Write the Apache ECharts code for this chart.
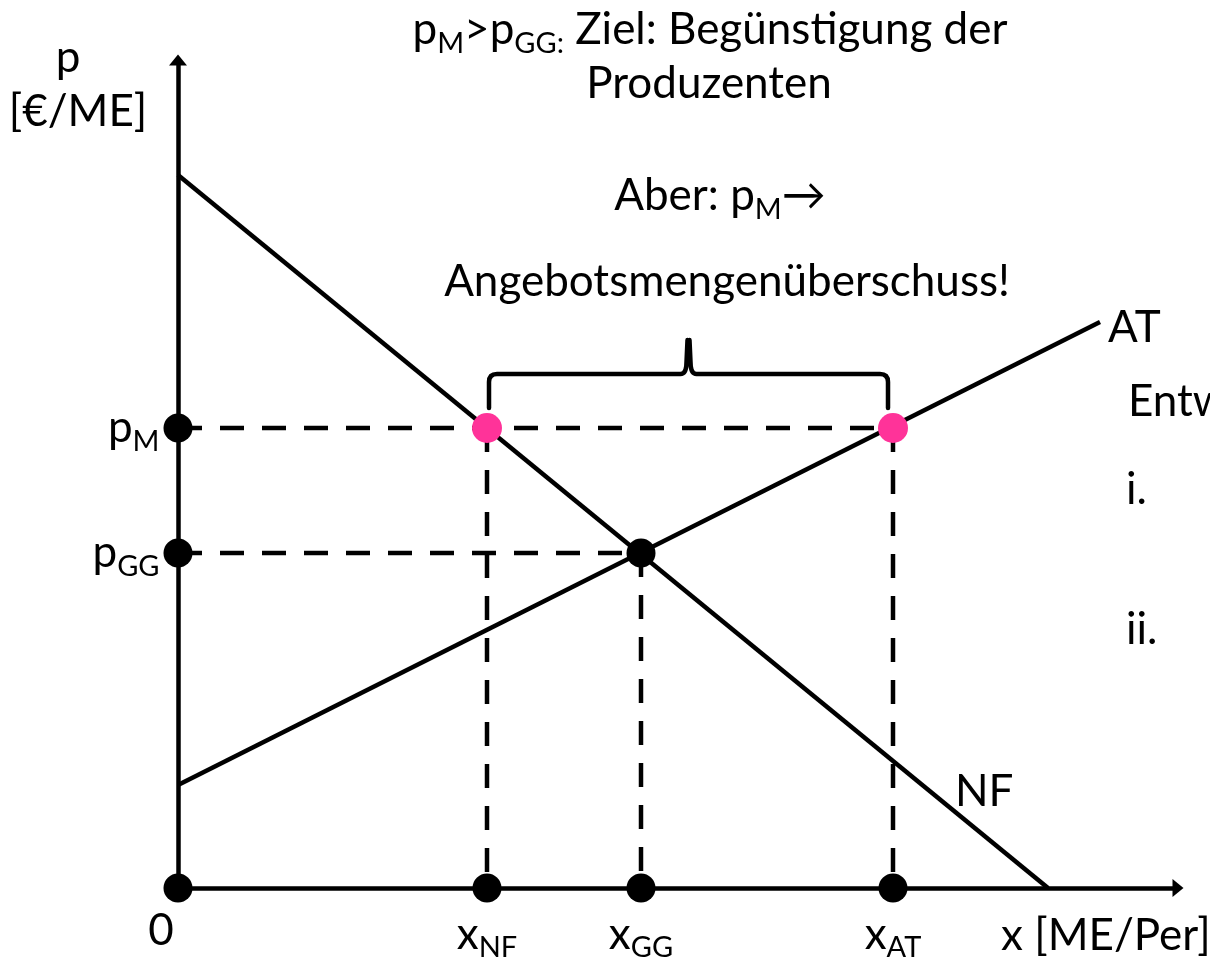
<!DOCTYPE html>
<html>
<head>
<meta charset="utf-8">
<script src="https://cdn.jsdelivr.net/npm/echarts@6/dist/echarts.min.js"></script>
<style>
  html, body { margin: 0; padding: 0; background: #fff; }
  #chart { width: 1210px; height: 957px; }
</style>
</head>
<body>
<div id="chart"></div>
<script>
var chartDom = document.getElementById('chart');
var myChart = echarts.init(chartDom);

// axis ranges
const xMax = 1000;
const yMax = 828;

// price levels (mindestpreis, gleichgewicht)
const priceLevels = [460, 335];
const priceNames = ['M', 'GG'];

// quantities on the x axis
const quantityLevels = [0, 309, 463, 715];
const quantityNames = ['', 'NF', 'GG', 'AT'];

// demand (NF) and supply (AT) curves
const nfLine = [[0, 713], [870, 0]];
const atLine = [[0, 103], [922, 566]];

const pM = priceLevels[0];
const pGG = priceLevels[1];
const xNF = quantityLevels[1];
const xGG = quantityLevels[2];
const xAT = quantityLevels[3];

const FONT = 'Lato, "Noto Sans", sans-serif';
const rich = {
  m: { fontSize: 44, lineHeight: 48, fontFamily: FONT, color: '#000' },
  s: { fontSize: 29, lineHeight: 56, verticalAlign: 'bottom', fontFamily: FONT, color: '#000' }
};

const solid = { color: '#000', width: 4.5 };
const dashed = { color: '#000', width: 4.5, type: [24, 18] };

function seg(data, style) {
  return {
    type: 'line',
    data: data,
    symbol: 'none',
    lineStyle: style,
    silent: true,
    z: 2
  };
}

const dotStyle = { color: '#000', opacity: 1 };

const series = [
  seg(nfLine, solid),
  seg(atLine, solid),
  seg([[0, pM], [xAT, pM]], dashed),
  seg([[0, pGG], [xGG, pGG]], dashed),
  seg([[xNF, pM], [xNF, 0]], dashed),
  seg([[xAT, pM], [xAT, 0]], dashed),
  seg([[xGG, pGG], [xGG, 0]], dashed),
  // brace above the excess supply
  {
    type: 'custom',
    silent: true,
    z: 3,
    data: [[xNF, xAT, pM]],
    renderItem: function (params, api) {
      const a = api.coord([api.value(0), api.value(2)]);
      const b = api.coord([api.value(1), api.value(2)]);
      const L = a[0] + 2, R = b[0] - 5;
      const base = a[1] - 20, h = a[1] - 54, tip = a[1] - 88;
      const mid = (L + R) / 2;
      const r = 8;
      const d = 'M' + L + ' ' + base +
        ' L' + L + ' ' + (h + r) +
        ' Q' + L + ' ' + h + ' ' + (L + r) + ' ' + h +
        ' L' + (mid - 8) + ' ' + h +
        ' Q' + (mid - 2) + ' ' + h + ' ' + (mid - 2) + ' ' + (h - 12) +
        ' L' + (mid - 1) + ' ' + tip +
        ' M' + (mid + 1) + ' ' + tip +
        ' L' + (mid + 2) + ' ' + (h - 12) +
        ' Q' + (mid + 2) + ' ' + h + ' ' + (mid + 8) + ' ' + h +
        ' L' + (R - r) + ' ' + h +
        ' Q' + R + ' ' + h + ' ' + R + ' ' + (h + r) +
        ' L' + R + ' ' + base;
      return {
        type: 'path',
        shape: { pathData: d },
        style: { fill: 'none', stroke: '#000', lineWidth: 4.5, lineCap: 'round', lineJoin: 'round' }
      };
    }
  },
  // price dots on the y axis
  {
    type: 'scatter',
    symbolSize: 29,
    itemStyle: dotStyle,
    z: 5,
    data: priceLevels.map(function (v, i) {
      return {
        value: [0, v],
        label: {
          show: true,
          position: 'left',
          distance: 4,
          formatter: '{m|p}{s|' + priceNames[i] + '}',
          rich: rich
        }
      };
    })
  },
  // quantity dots on the x axis
  {
    type: 'scatter',
    symbolSize: 29,
    itemStyle: dotStyle,
    z: 5,
    data: quantityLevels.map(function (v, i) {
      return {
        value: [v, 0],
        label: {
          show: true,
          position: 'bottom',
          distance: 4,
          offset: i === 0 ? [-17, 0] : [0, 0],
          formatter: i === 0 ? '{m|0}' : '{m|x}{s|' + quantityNames[i] + '}',
          rich: rich
        }
      };
    })
  },
  // equilibrium
  {
    type: 'scatter',
    symbolSize: 29,
    itemStyle: dotStyle,
    z: 5,
    data: [[xGG, pGG]]
  },
  // minimum price hits NF and AT
  {
    type: 'scatter',
    symbolSize: 30,
    itemStyle: { color: '#ff3399', opacity: 1 },
    z: 5,
    data: [[xNF, pM], [xAT, pM]]
  }
];

function txt(x, y, text, align) {
  return {
    type: 'text',
    x: x,
    y: y,
    silent: true,
    z: 10,
    style: {
      text: text,
      font: '44px ' + FONT,
      fill: '#000',
      align: align || 'center',
      verticalAlign: 'middle',
      rich: rich
    }
  };
}

const axisLine = {
  show: true,
  lineStyle: { color: '#000', width: 4.5 },
  symbol: ['none', 'triangle'],
  symbolSize: [18, 11]
};

var option = {
  animation: false,
  backgroundColor: '#fff',
  grid: { left: 178, right: 32, top: 60, bottom: 69 },
  xAxis: {
    type: 'value',
    min: 0,
    max: xMax,
    axisLine: axisLine,
    axisTick: { show: false },
    axisLabel: { show: false },
    splitLine: { show: false }
  },
  yAxis: {
    type: 'value',
    min: 0,
    max: yMax,
    axisLine: axisLine,
    axisTick: { show: false },
    axisLabel: { show: false },
    splitLine: { show: false }
  },
  graphic: [
    txt(68, 58, '{m|p}'),
    txt(78, 112, '{m|[€/ME]}'),
    txt(710, 30, '{m|p}{s|M}{m|>p}{s|GG:}{m| Ziel: Begünstigung der}'),
    txt(709, 84, '{m|Produzenten}'),
    txt(720, 196, '{m|Aber: p}{s|M}{m|→}'),
    txt(727, 282, '{m|Angebotsmengenüberschuss!}'),
    txt(1108, 328, '{m|AT}', 'left'),
    txt(1128, 402, '{m|Entw}', 'left'),
    txt(1126, 490, '{m|i.}', 'left'),
    txt(1126, 630, '{m|ii.}', 'left'),
    txt(955, 792, '{m|NF}', 'left'),
    txt(1001, 936, '{m|x [ME/Per]}', 'left')
  ],
  series: series
};

myChart.setOption(option);
</script>
</body>
</html>
